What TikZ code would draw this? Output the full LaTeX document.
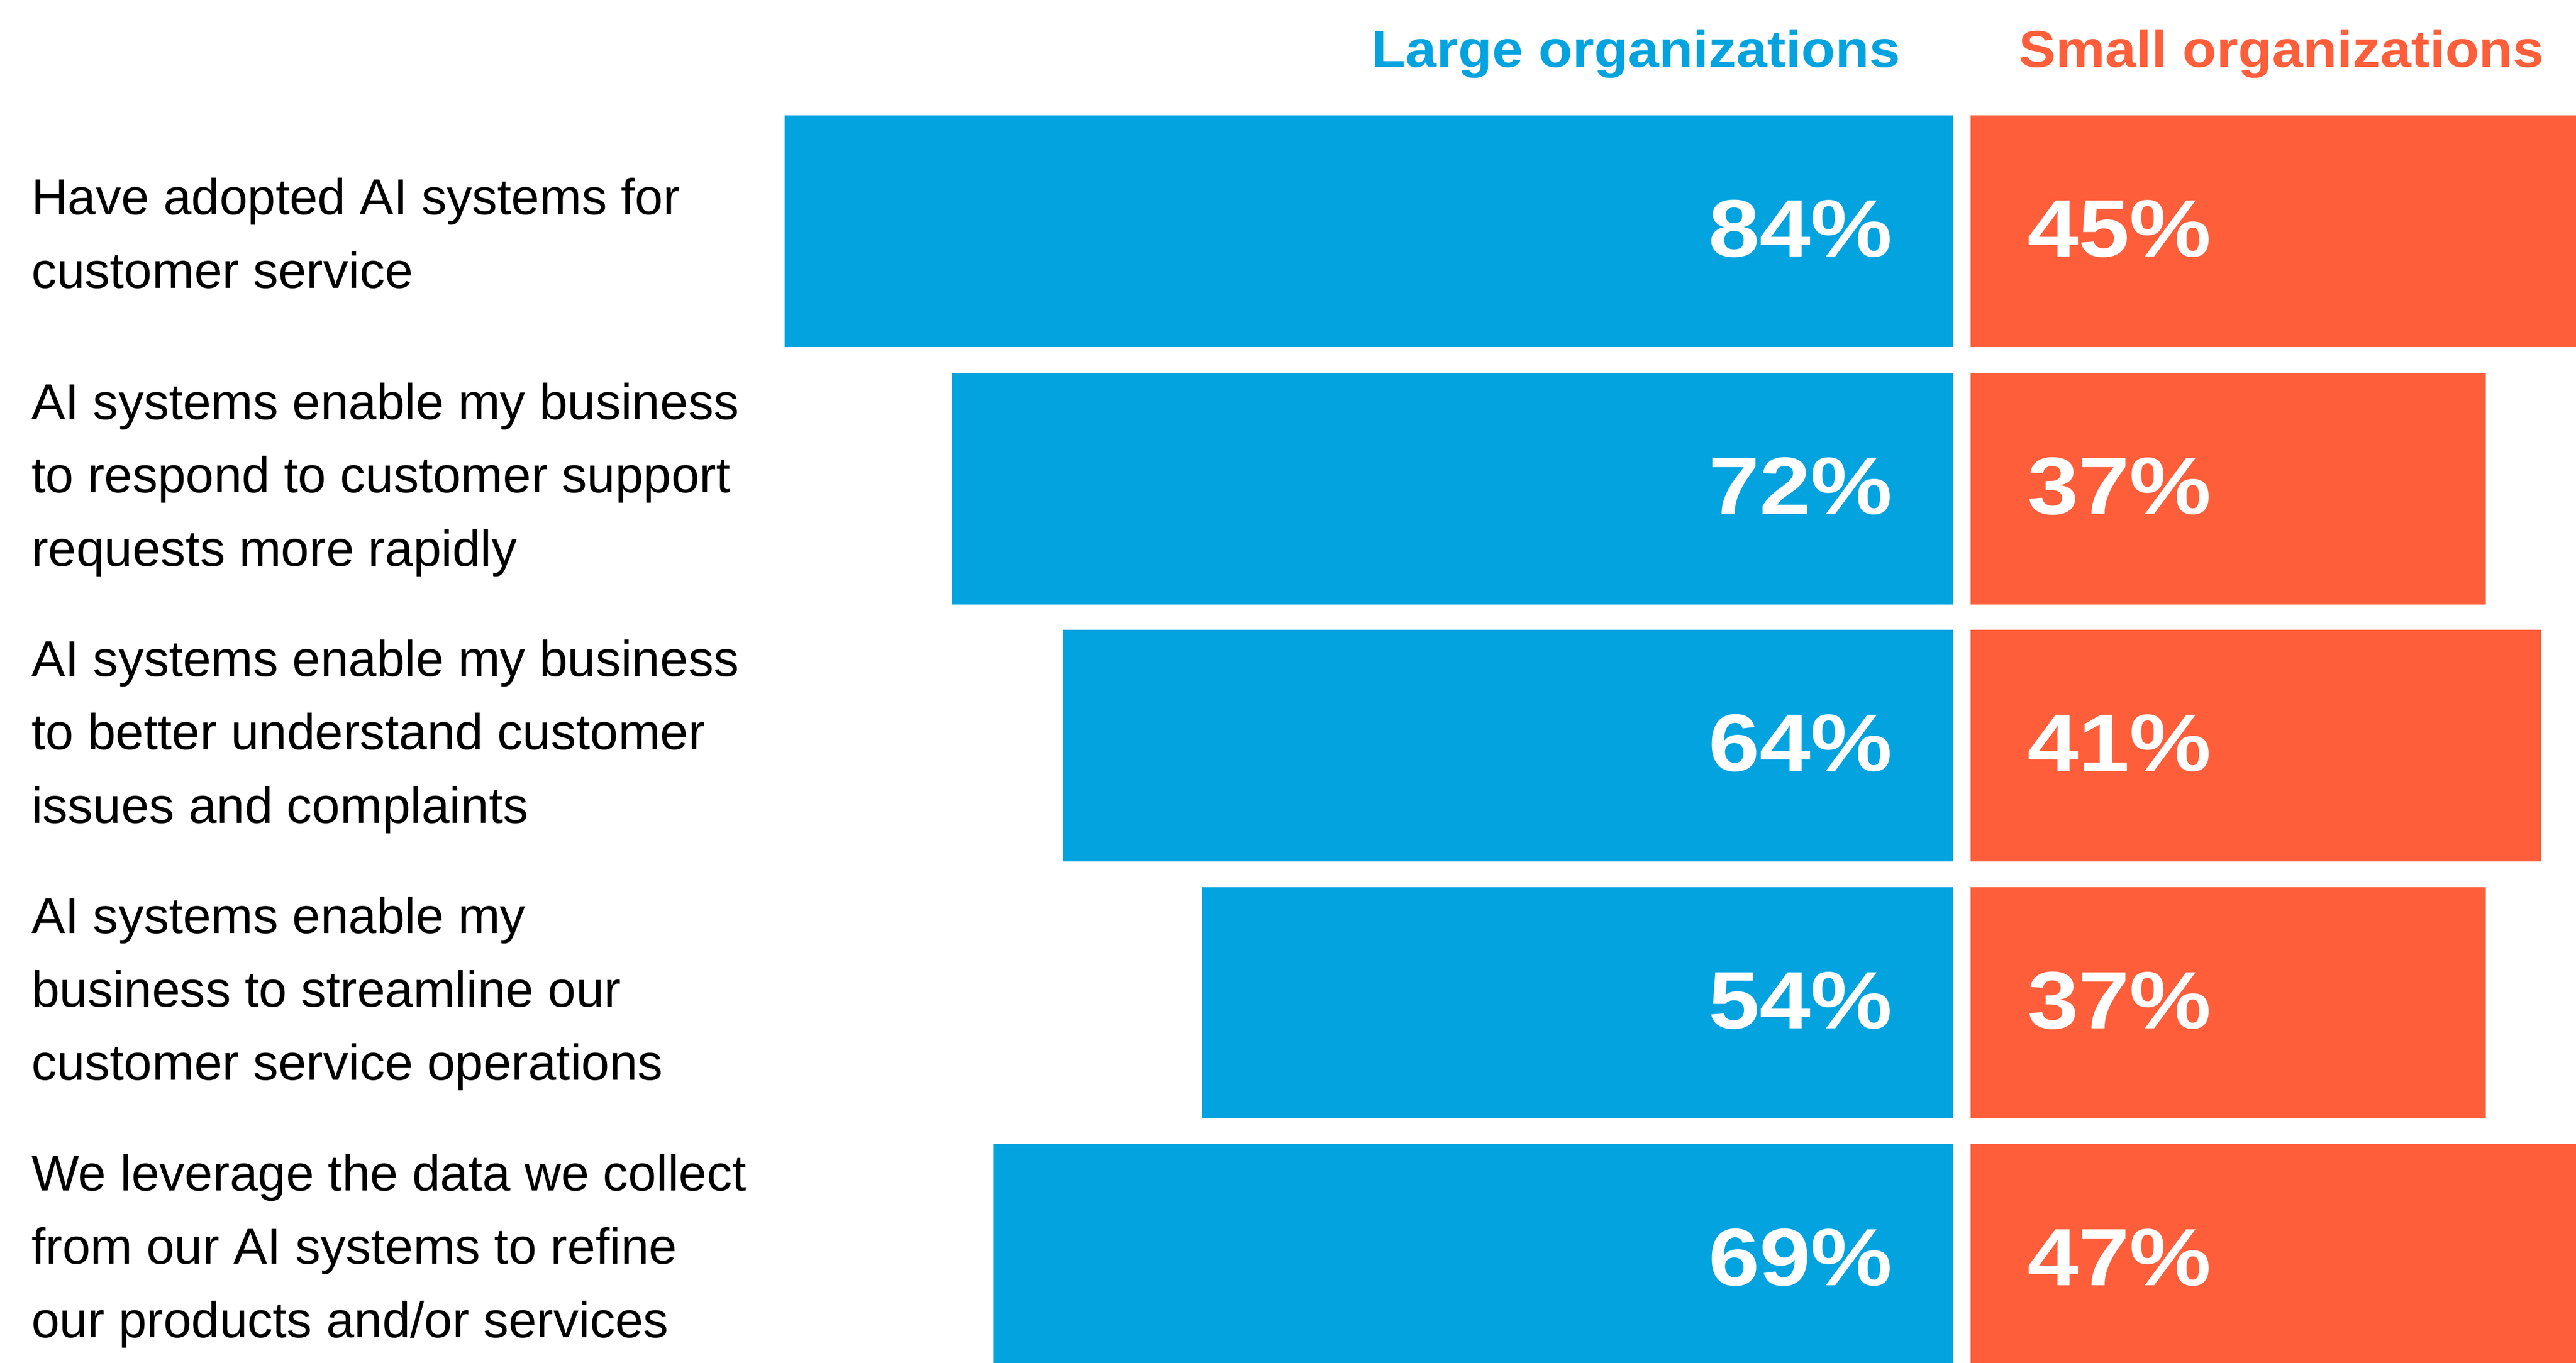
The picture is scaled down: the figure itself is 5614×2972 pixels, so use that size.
\documentclass[tikz,border=0pt]{standalone}
\usepackage{fontspec}
\setmainfont{Liberation Sans}
\newfontfamily\headfont{Liberation Sans}[FakeStretch=1.07]
\newfontfamily\pctfont{Liberation Sans}[FakeStretch=1.13]
\definecolor{largeblue}{HTML}{03A3E0}
\definecolor{smallred}{HTML}{FF5E3A}
\tikzset{
  rowlabel/.style={anchor=base west, inner sep=0pt, font=\fontsize{31.3pt}{45.5pt}\selectfont},
  headlabel/.style={anchor=base west, inner sep=0pt, font=\headfont\bfseries\fontsize{32.2pt}{38pt}\selectfont},
  pctlabel/.style={inner sep=0pt, text=white, font=\pctfont\bfseries\fontsize{50.4pt}{60pt}\selectfont},
  largebar/.style={fill=largeblue},
  smallbar/.style={fill=smallred}
}
\begin{document}
\begin{tikzpicture}[x=0.01cm, y=-0.01cm]
	%%%%% START %%%%%
	\useasboundingbox (0, 0) rectangle (5614, 2972);
	\clip (0, 0) rectangle (5614, 2972);
	
	\node[headlabel, text=largeblue] (headL) at (2989, 146) {Large organizations};
	\node[headlabel, text=smallred] (headS) at (4399, 146) {Small organizations};
	
	\fill[largebar] (1710, 252) rectangle (4257, 757);
	\fill[smallbar] (4295, 252) rectangle (5659, 757);
	\node[rowlabel] (lbl1) at (68, 468) {\begin{tabular}[t]{@{}l@{}}Have adopted AI systems for\\customer service\end{tabular}};
	\node[pctlabel, anchor=base east] (pctL1) at (4125, 560) {84\%};
	\node[pctlabel, anchor=base west] (pctS1) at (4418, 560) {45\%};
	
	\fill[largebar] (2074, 812.75) rectangle (4257, 1317.75);
	\fill[smallbar] (4295, 812.75) rectangle (5417, 1317.75);
	\node[rowlabel] (lbl2) at (68, 914) {\begin{tabular}[t]{@{}l@{}}AI systems enable my business\\to respond to customer support\\requests more rapidly\end{tabular}};
	\node[pctlabel, anchor=base east] (pctL2) at (4125, 1120.75) {72\%};
	\node[pctlabel, anchor=base west] (pctS2) at (4418, 1120.75) {37\%};
	
	\fill[largebar] (2316.5, 1373.5) rectangle (4257, 1878.5);
	\fill[smallbar] (4295, 1373.5) rectangle (5538, 1878.5);
	\node[rowlabel] (lbl3) at (68, 1474.5) {\begin{tabular}[t]{@{}l@{}}AI systems enable my business\\to better understand customer\\issues and complaints\end{tabular}};
	\node[pctlabel, anchor=base east] (pctL3) at (4125, 1681.5) {64\%};
	\node[pctlabel, anchor=base west] (pctS3) at (4418, 1681.5) {41\%};
	
	\fill[largebar] (2619.7, 1934.25) rectangle (4257, 2439.25);
	\fill[smallbar] (4295, 1934.25) rectangle (5417, 2439.25);
	\node[rowlabel] (lbl4) at (68, 2035.25) {\begin{tabular}[t]{@{}l@{}}AI systems enable my\\business to streamline our\\customer service operations\end{tabular}};
	\node[pctlabel, anchor=base east] (pctL4) at (4125, 2242.25) {54\%};
	\node[pctlabel, anchor=base west] (pctS4) at (4418, 2242.25) {37\%};
	
	\fill[largebar] (2165, 2495) rectangle (4257, 3000);
	\fill[smallbar] (4295, 2495) rectangle (5720, 3000);
	\node[rowlabel] (lbl5) at (68, 2596) {\begin{tabular}[t]{@{}l@{}}We leverage the data we collect\\from our AI systems to refine\\our products and/or services\end{tabular}};
	\node[pctlabel, anchor=base east] (pctL5) at (4125, 2803) {69\%};
	\node[pctlabel, anchor=base west] (pctS5) at (4418, 2803) {47\%};
	%%%%% END %%%%%
\end{tikzpicture}
\end{document}
